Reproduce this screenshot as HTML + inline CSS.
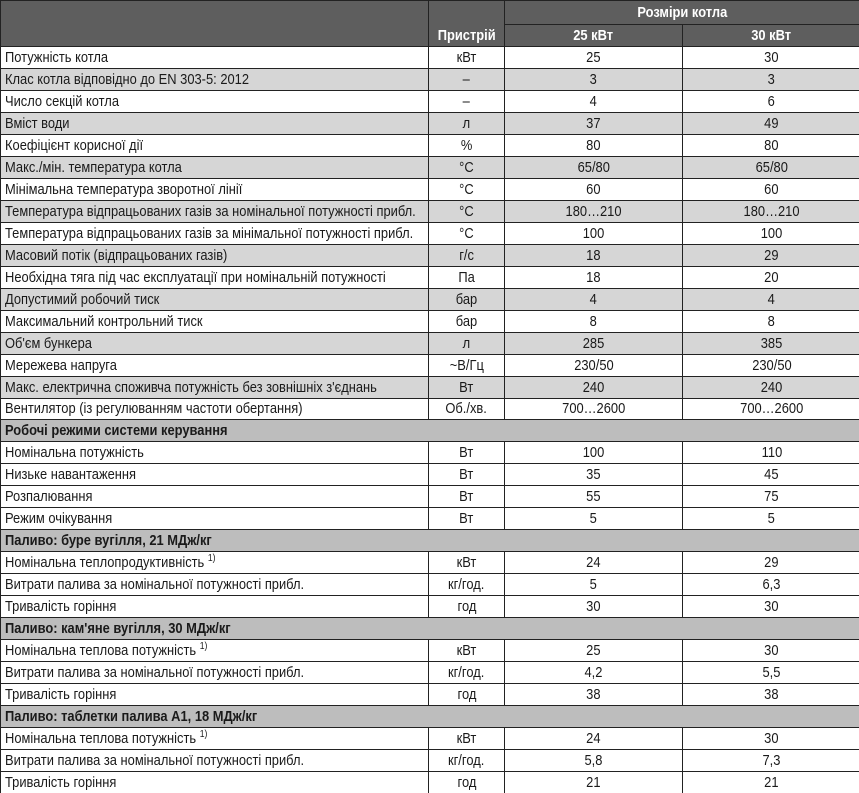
<!DOCTYPE html>
<html><head><meta charset="utf-8"><style>
html,body{margin:0;padding:0;background:#fff;width:859px;height:793px;overflow:hidden}
table{border-collapse:collapse;table-layout:fixed;width:860px;font-family:"Liberation Sans",sans-serif;font-size:15px;color:#1a1a1a}
tr{height:21.97px}
td{border:1px solid #222;padding:0 4px;height:auto;line-height:15px;white-space:nowrap;overflow:hidden}
td.c{text-align:center}
td.c .n{transform-origin:center center}
tr.s td{background:#d6d6d6}
tr.h td{background:#bdbdbd;font-weight:bold}
.hd td{background:#5e5e5e;color:#fff;font-weight:bold;text-align:center;border-color:#222}
.n{display:inline-block;transform:scaleX(.86);transform-origin:left center}
sup{font-size:10px;line-height:0}
</style></head><body>
<table>
<colgroup><col style="width:428px"><col style="width:76px"><col style="width:178px"><col style="width:178px"></colgroup>
<tr class="hd" style="height:24px"><td rowspan="2"></td><td rowspan="2" style="vertical-align:bottom;padding-bottom:3px"><span class="n" style="transform-origin:center">Пристрій</span></td><td colspan="2"><span class="n" style="transform-origin:center">Розміри котла</span></td></tr>
<tr class="hd" style="height:22px"><td><span class="n" style="transform-origin:center">25 кВт</span></td><td><span class="n" style="transform-origin:center">30 кВт</span></td></tr>
<tr><td><span class="n">Потужність котла</span></td><td class="c"><span class="n">кВт</span></td><td class="c"><span class="n">25</span></td><td class="c"><span class="n">30</span></td></tr>
<tr class="s"><td><span class="n">Клас котла відповідно до EN 303-5: 2012</span></td><td class="c"><span class="n">–</span></td><td class="c"><span class="n">3</span></td><td class="c"><span class="n">3</span></td></tr>
<tr><td><span class="n">Число секцій котла</span></td><td class="c"><span class="n">–</span></td><td class="c"><span class="n">4</span></td><td class="c"><span class="n">6</span></td></tr>
<tr class="s"><td><span class="n">Вміст води</span></td><td class="c"><span class="n">л</span></td><td class="c"><span class="n">37</span></td><td class="c"><span class="n">49</span></td></tr>
<tr><td><span class="n">Коефіцієнт корисної дії</span></td><td class="c"><span class="n">%</span></td><td class="c"><span class="n">80</span></td><td class="c"><span class="n">80</span></td></tr>
<tr class="s"><td><span class="n">Макс./мін. температура котла</span></td><td class="c"><span class="n">°C</span></td><td class="c"><span class="n">65/80</span></td><td class="c"><span class="n">65/80</span></td></tr>
<tr><td><span class="n">Мінімальна температура зворотної лінії</span></td><td class="c"><span class="n">°C</span></td><td class="c"><span class="n">60</span></td><td class="c"><span class="n">60</span></td></tr>
<tr class="s"><td><span class="n">Температура відпрацьованих газів за номінальної потужності прибл.</span></td><td class="c"><span class="n">°C</span></td><td class="c"><span class="n">180…210</span></td><td class="c"><span class="n">180…210</span></td></tr>
<tr><td><span class="n">Температура відпрацьованих газів за мінімальної потужності прибл.</span></td><td class="c"><span class="n">°C</span></td><td class="c"><span class="n">100</span></td><td class="c"><span class="n">100</span></td></tr>
<tr class="s"><td><span class="n">Масовий потік (відпрацьованих газів)</span></td><td class="c"><span class="n">г/с</span></td><td class="c"><span class="n">18</span></td><td class="c"><span class="n">29</span></td></tr>
<tr><td><span class="n">Необхідна тяга під час експлуатації при номінальній потужності</span></td><td class="c"><span class="n">Па</span></td><td class="c"><span class="n">18</span></td><td class="c"><span class="n">20</span></td></tr>
<tr class="s"><td><span class="n">Допустимий робочий тиск</span></td><td class="c"><span class="n">бар</span></td><td class="c"><span class="n">4</span></td><td class="c"><span class="n">4</span></td></tr>
<tr><td><span class="n">Максимальний контрольний тиск</span></td><td class="c"><span class="n">бар</span></td><td class="c"><span class="n">8</span></td><td class="c"><span class="n">8</span></td></tr>
<tr class="s"><td><span class="n">Об'єм бункера</span></td><td class="c"><span class="n">л</span></td><td class="c"><span class="n">285</span></td><td class="c"><span class="n">385</span></td></tr>
<tr><td><span class="n">Мережева напруга</span></td><td class="c"><span class="n">~В/Гц</span></td><td class="c"><span class="n">230/50</span></td><td class="c"><span class="n">230/50</span></td></tr>
<tr class="s"><td><span class="n">Макс. електрична споживча потужність без зовнішніх з'єднань</span></td><td class="c"><span class="n">Вт</span></td><td class="c"><span class="n">240</span></td><td class="c"><span class="n">240</span></td></tr>
<tr><td><span class="n">Вентилятор (із регулюванням частоти обертання)</span></td><td class="c"><span class="n">Об./хв.</span></td><td class="c"><span class="n">700…2600</span></td><td class="c"><span class="n">700…2600</span></td></tr>
<tr class="h"><td colspan="4"><span class="n">Робочі режими системи керування</span></td></tr>
<tr><td><span class="n">Номінальна потужність</span></td><td class="c"><span class="n">Вт</span></td><td class="c"><span class="n">100</span></td><td class="c"><span class="n">110</span></td></tr>
<tr><td><span class="n">Низьке навантаження</span></td><td class="c"><span class="n">Вт</span></td><td class="c"><span class="n">35</span></td><td class="c"><span class="n">45</span></td></tr>
<tr><td><span class="n">Розпалювання</span></td><td class="c"><span class="n">Вт</span></td><td class="c"><span class="n">55</span></td><td class="c"><span class="n">75</span></td></tr>
<tr><td><span class="n">Режим очікування</span></td><td class="c"><span class="n">Вт</span></td><td class="c"><span class="n">5</span></td><td class="c"><span class="n">5</span></td></tr>
<tr class="h"><td colspan="4"><span class="n">Паливо: буре вугілля, 21 МДж/кг</span></td></tr>
<tr><td><span class="n">Номінальна теплопродуктивність <sup>1)</sup></span></td><td class="c"><span class="n">кВт</span></td><td class="c"><span class="n">24</span></td><td class="c"><span class="n">29</span></td></tr>
<tr><td><span class="n">Витрати палива за номінальної потужності прибл.</span></td><td class="c"><span class="n">кг/год.</span></td><td class="c"><span class="n">5</span></td><td class="c"><span class="n">6,3</span></td></tr>
<tr><td><span class="n">Тривалість горіння</span></td><td class="c"><span class="n">год</span></td><td class="c"><span class="n">30</span></td><td class="c"><span class="n">30</span></td></tr>
<tr class="h"><td colspan="4"><span class="n">Паливо: кам'яне вугілля, 30 МДж/кг</span></td></tr>
<tr><td><span class="n">Номінальна теплова потужність <sup>1)</sup></span></td><td class="c"><span class="n">кВт</span></td><td class="c"><span class="n">25</span></td><td class="c"><span class="n">30</span></td></tr>
<tr><td><span class="n">Витрати палива за номінальної потужності прибл.</span></td><td class="c"><span class="n">кг/год.</span></td><td class="c"><span class="n">4,2</span></td><td class="c"><span class="n">5,5</span></td></tr>
<tr><td><span class="n">Тривалість горіння</span></td><td class="c"><span class="n">год</span></td><td class="c"><span class="n">38</span></td><td class="c"><span class="n">38</span></td></tr>
<tr class="h"><td colspan="4"><span class="n">Паливо: таблетки палива А1, 18 МДж/кг</span></td></tr>
<tr><td><span class="n">Номінальна теплова потужність <sup>1)</sup></span></td><td class="c"><span class="n">кВт</span></td><td class="c"><span class="n">24</span></td><td class="c"><span class="n">30</span></td></tr>
<tr><td><span class="n">Витрати палива за номінальної потужності прибл.</span></td><td class="c"><span class="n">кг/год.</span></td><td class="c"><span class="n">5,8</span></td><td class="c"><span class="n">7,3</span></td></tr>
<tr><td><span class="n">Тривалість горіння</span></td><td class="c"><span class="n">год</span></td><td class="c"><span class="n">21</span></td><td class="c"><span class="n">21</span></td></tr>
</table>
</body></html>
